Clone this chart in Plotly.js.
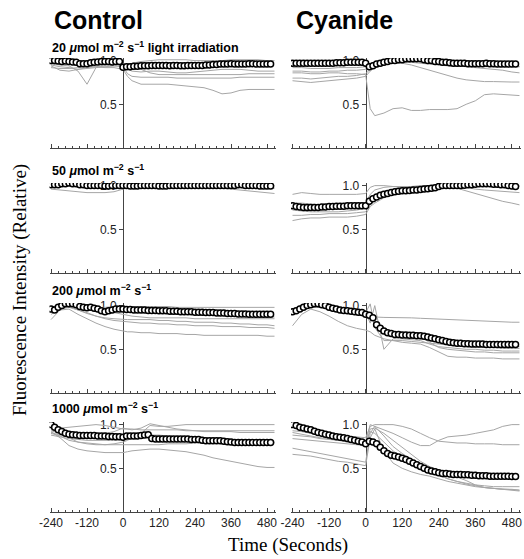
<!DOCTYPE html>
<html><head><meta charset="utf-8">
<script src="https://cdn.plot.ly/plotly-3.0.1.min.js"></script>
<style>html,body{margin:0;padding:0;background:#fff}#chart{width:524px;height:559px}</style>
</head><body><div id="chart"></div>
<script>
// ---------- DATA ----------
const meanT = [-240,-228,-216,-204,-192,-180,-168,-156,-144,-132,-120,-108,-96,-84,-72,-60,-48,-36,-24,-12,
  0,12,24,36,48,60,72,84,96,108,120,132,144,156,168,180,192,204,216,228,240,252,264,276,288,300,312,324,336,348,
  360,372,384,396,408,420,432,444,456,468,480,492];
const grayT = [-240,-210,-180,-150,-120,-90,-60,-30,0,15,30,60,90,120,150,180,210,240,270,300,330,360,390,420,450,480,505];

const columnTitles = ["Control", "Cyanide"];
const rowTitles = ["20 <i>μ</i>mol m<sup>−2</sup> s<sup>−1</sup> light irradiation",
                   "50 <i>μ</i>mol m<sup>−2</sup> s<sup>−1</sup>",
                   "200 <i>μ</i>mol m<sup>−2</sup> s<sup>−1</sup>",
                   "1000 <i>μ</i>mol m<sup>−2</sup> s<sup>−1</sup>"];
const xTickVals = [-240,-120,0,120,240,360,480];
const xTickText = ["-240","-120","0","120","240","360","480"];
const yTickVals = [0.5, 1.0];
const yTickText = ["0.5", "1.0"];

// Control, 20
const ctl20Mean = [1.0,1.0,0.995,0.99,0.995,0.99,0.985,0.98,0.965,0.965,0.965,0.975,0.98,0.985,0.99,0.99,0.99,0.985,0.99,0.99,
  0.925,0.93,0.93,0.935,0.935,0.94,0.94,0.94,0.945,0.945,
  0.945,0.945,0.945,0.94,0.945,0.945,0.94,0.94,0.945,0.945,
  0.945,0.945,0.945,0.95,0.95,0.955,0.955,0.96,0.96,0.96,
  0.965,0.96,0.96,0.96,0.96,0.965,0.965,0.96,0.96,0.96,
  0.96,0.96];
const ctl20Gray = [
  [0.98,0.98,0.97,0.97,0.98,0.98,0.97,0.97,0.97,0.95,0.97,0.99,1.0,1.01,1.01,1.01,1.01,1.0,1.0,1.0,1.0,1.01,1.01,1.01,1.01,1.0,1.0],
  [0.96,0.95,0.94,0.88,0.73,0.92,0.94,0.94,0.93,0.85,0.82,0.81,0.81,0.81,0.81,0.8,0.8,0.8,0.8,0.8,0.8,0.8,0.81,0.81,0.81,0.81,0.81],
  [0.92,0.91,0.91,0.92,0.93,0.93,0.92,0.92,0.9,0.82,0.77,0.73,0.73,0.73,0.73,0.72,0.71,0.7,0.69,0.66,0.62,0.63,0.66,0.67,0.67,0.67,0.67],
  [0.95,0.93,0.92,0.9,0.92,0.93,0.95,0.96,0.95,0.9,0.88,0.87,0.88,0.88,0.87,0.86,0.86,0.87,0.88,0.89,0.9,0.9,0.9,0.89,0.88,0.88,0.88],
  [0.94,0.89,0.88,0.9,0.91,0.92,0.93,0.94,0.94,0.93,0.92,0.9,0.86,0.84,0.84,0.84,0.84,0.84,0.84,0.84,0.84,0.84,0.84,0.85,0.85,0.85,0.85]
];
// Cyanide, 20
const cn20Mean = [0.97,0.97,0.97,0.97,0.97,0.97,0.97,0.97,0.97,0.97,0.97,0.97,0.975,0.975,0.975,0.98,0.98,0.98,0.98,0.98,
  0.97,0.93,0.94,0.96,0.97,0.98,0.99,1.0,1.0,1.01,
  1.01,1.02,1.02,1.02,1.02,1.02,1.01,1.0,1.0,0.99,
  0.99,0.98,0.98,0.975,0.97,0.97,0.97,0.97,0.965,0.965,
  0.965,0.965,0.965,0.97,0.965,0.965,0.96,0.96,0.96,0.96,
  0.96,0.96];
const cn20Gray = [
  [0.86,0.86,0.85,0.85,0.86,0.86,0.85,0.85,0.84,0.45,0.37,0.4,0.45,0.46,0.43,0.43,0.44,0.44,0.44,0.45,0.5,0.54,0.61,0.62,0.61,0.6,0.6],
  [0.8,0.8,0.79,0.8,0.81,0.82,0.82,0.83,0.85,0.9,0.93,0.96,0.97,0.97,0.95,0.92,0.89,0.86,0.83,0.8,0.78,0.77,0.76,0.76,0.755,0.755,0.755],
  [0.88,0.88,0.87,0.87,0.88,0.88,0.89,0.89,0.9,0.92,0.95,0.98,1.0,1.01,1.01,1.0,0.99,0.98,0.96,0.94,0.93,0.92,0.91,0.9,0.89,0.87,0.86],
  [0.92,0.92,0.91,0.91,0.91,0.92,0.92,0.92,0.93,0.95,0.97,0.99,1.0,1.01,1.01,1.01,1.0,0.99,0.98,0.97,0.96,0.95,0.95,0.94,0.94,0.93,0.93],
  [0.77,0.76,0.75,0.76,0.77,0.78,0.79,0.8,0.82,0.88,0.92,0.95,0.97,0.98,0.98,0.97,0.96,0.95,0.94,0.94,0.94,0.94,0.93,0.93,0.93,0.93,0.93]
];
// Control, 50
const ctl50Mean = [1.01,1.01,1.01,1.02,1.02,1.03,1.02,1.02,1.01,1.01,1.0,1.0,1.0,1.0,1.0,0.995,0.995,1.0,1.0,1.0,
  1.0,1.0,0.995,0.995,0.995,1.0,1.0,1.0,1.0,1.0,
  0.995,0.995,0.995,1.0,1.0,1.0,1.0,1.0,1.0,1.0,
  1.0,1.0,1.0,1.0,1.0,1.0,1.0,1.0,1.0,1.0,
  1.0,1.0,1.01,1.01,1.0,1.0,1.0,1.0,0.995,0.995,
  0.995,0.995];
const ctl50Gray = [
  [0.96,0.95,0.94,0.93,0.92,0.92,0.92,0.93,0.96,0.98,0.99,0.99,0.99,0.98,0.98,0.99,0.99,0.99,0.98,0.98,0.97,0.96,0.95,0.94,0.93,0.92,0.91],
  [0.99,1.0,1.01,1.0,0.99,0.98,0.97,0.97,0.98,0.99,0.99,0.99,0.97,0.99,0.99,0.99,0.99,0.98,0.98,0.99,0.99,0.98,0.98,0.97,0.97,0.97,0.97],
  [1.0,1.01,1.02,1.01,1.0,1.0,0.99,0.99,0.99,1.0,1.0,1.0,1.0,1.0,1.0,1.0,1.0,1.0,1.0,1.01,1.01,1.01,1.0,1.0,1.0,1.0,1.0]
];
// Cyanide, 50
const cn50Mean = [0.77,0.76,0.755,0.75,0.75,0.75,0.75,0.75,0.755,0.755,0.76,0.76,0.765,0.765,0.765,0.77,0.77,0.77,0.77,0.77,
  0.77,0.82,0.85,0.87,0.89,0.9,0.91,0.92,0.93,0.935,
  0.94,0.94,0.945,0.95,0.95,0.955,0.96,0.965,0.97,0.975,
  0.99,1.0,1.0,1.0,1.0,1.0,1.0,1.005,1.01,1.01,
  1.015,1.02,1.02,1.02,1.02,1.015,1.015,1.01,1.01,1.0,
  0.995,0.99];
const cn50Gray = [
  [0.9,0.92,0.91,0.9,0.9,0.9,0.9,0.9,0.91,0.98,1.0,1.0,0.99,0.98,0.98,0.98,0.99,1.0,1.0,1.0,0.98,0.96,0.95,0.94,0.93,0.92,0.92],
  [0.6,0.62,0.63,0.63,0.64,0.64,0.64,0.65,0.67,0.76,0.8,0.86,0.9,0.92,0.93,0.95,0.97,1.0,1.0,0.97,0.94,0.91,0.88,0.85,0.82,0.8,0.78],
  [0.72,0.71,0.7,0.7,0.7,0.7,0.71,0.72,0.74,0.8,0.84,0.88,0.9,0.91,0.92,0.93,0.95,0.97,0.99,1.0,1.0,1.0,1.0,1.0,1.0,1.0,1.0],
  [0.66,0.66,0.67,0.67,0.68,0.68,0.68,0.69,0.7,0.78,0.85,0.9,0.93,0.95,0.96,0.97,0.98,0.99,1.0,1.0,1.0,1.01,1.01,1.0,1.0,1.0,1.0],
  [0.8,0.8,0.79,0.78,0.78,0.78,0.79,0.8,0.8,0.9,0.95,0.98,0.99,0.99,0.99,1.0,1.0,1.0,1.0,1.0,1.0,1.0,1.0,0.99,0.99,0.99,0.99]
];
// Control, 200
const ctl200Mean = [0.96,0.95,0.98,1.0,1.02,1.02,1.02,1.01,0.99,0.98,0.975,0.98,0.97,0.96,0.94,0.93,0.94,0.95,0.96,0.96,
  0.96,0.955,0.955,0.95,0.95,0.95,0.95,0.945,0.945,0.945,
  0.94,0.94,0.94,0.935,0.935,0.935,0.93,0.93,0.93,0.93,
  0.925,0.925,0.925,0.92,0.92,0.92,0.915,0.915,0.915,0.91,
  0.91,0.91,0.905,0.905,0.905,0.9,0.9,0.9,0.9,0.9,
  0.9,0.9];
const ctl200Gray = [
  [0.84,0.95,0.96,0.9,0.85,0.8,0.76,0.73,0.71,0.7,0.7,0.69,0.69,0.68,0.68,0.68,0.67,0.67,0.66,0.66,0.66,0.66,0.66,0.66,0.66,0.65,0.65],
  [0.93,0.97,0.99,0.95,0.91,0.88,0.85,0.83,0.82,0.82,0.81,0.8,0.8,0.79,0.79,0.78,0.78,0.77,0.77,0.77,0.76,0.76,0.76,0.75,0.75,0.75,0.74],
  [0.95,0.98,1.0,0.98,0.96,0.94,0.93,0.92,0.9,0.89,0.88,0.87,0.86,0.86,0.86,0.86,0.86,0.85,0.85,0.85,0.85,0.85,0.85,0.85,0.85,0.85,0.85],
  [0.98,1.0,1.01,1.0,0.99,0.98,0.98,0.99,0.99,0.99,0.99,0.99,0.99,0.99,0.99,0.98,0.98,0.98,0.98,0.98,0.98,0.98,0.98,0.98,0.98,0.98,0.98],
  [0.97,0.98,1.0,0.99,0.97,0.96,0.95,0.94,0.93,0.93,0.93,0.92,0.92,0.92,0.92,0.91,0.91,0.91,0.91,0.9,0.9,0.89,0.88,0.88,0.87,0.87,0.87],
  [0.9,0.96,0.98,0.95,0.92,0.88,0.86,0.85,0.84,0.84,0.84,0.84,0.84,0.83,0.83,0.82,0.82,0.81,0.81,0.81,0.8,0.8,0.79,0.79,0.78,0.78,0.77]
];
// Cyanide, 200
const cn200Mean = [0.93,0.94,0.96,0.98,1.0,1.01,1.02,1.02,1.01,1.0,0.98,0.97,0.96,0.95,0.945,0.94,0.935,0.93,0.925,0.92,
  0.9,0.89,0.86,0.78,0.74,0.71,0.69,0.68,0.67,0.67,
  0.665,0.665,0.66,0.66,0.655,0.655,0.65,0.64,0.63,0.62,
  0.61,0.6,0.59,0.58,0.575,0.57,0.57,0.565,0.565,0.56,
  0.56,0.56,0.56,0.555,0.555,0.555,0.555,0.555,0.555,0.555,
  0.555,0.555];
const cn200Gray = [
  [0.9,0.95,0.98,0.98,0.97,0.96,0.95,0.94,0.93,0.91,0.87,0.865,0.865,0.86,0.86,0.855,0.85,0.845,0.84,0.835,0.83,0.825,0.82,0.82,0.815,0.81,0.81],
  [0.92,0.95,0.99,1.0,0.99,0.97,0.95,0.93,0.92,1.02,0.75,0.6,0.6,0.6,0.59,0.58,0.57,0.56,0.55,0.54,0.53,0.52,0.52,0.52,0.51,0.51,0.51],
  [0.95,0.97,1.0,1.0,0.98,0.96,0.94,0.93,0.92,0.8,1.0,0.5,0.62,0.62,0.61,0.6,0.56,0.53,0.52,0.51,0.5,0.5,0.49,0.49,0.48,0.48,0.48],
  [0.77,0.9,0.96,0.93,0.88,0.82,0.77,0.74,0.72,0.7,0.66,0.62,0.6,0.58,0.57,0.56,0.52,0.47,0.42,0.41,0.41,0.4,0.4,0.4,0.39,0.39,0.39],
  [0.93,0.96,0.99,0.99,0.98,0.96,0.95,0.94,0.93,0.9,0.8,0.7,0.66,0.64,0.63,0.62,0.6,0.58,0.56,0.55,0.54,0.54,0.53,0.53,0.53,0.53,0.53],
  [0.94,0.97,1.0,1.0,0.99,0.97,0.96,0.95,0.94,0.9,0.82,0.72,0.68,0.66,0.65,0.64,0.58,0.52,0.5,0.49,0.48,0.47,0.47,0.46,0.46,0.46,0.46]
];
// Control, 1000
const ctl1000Mean = [1.0,0.97,0.94,0.92,0.9,0.89,0.885,0.88,0.875,0.875,0.875,0.875,0.875,0.87,0.87,0.87,0.865,0.865,0.86,0.86,
  0.855,0.87,0.87,0.87,0.87,0.875,0.88,0.885,0.84,0.835,
  0.835,0.835,0.835,0.835,0.835,0.835,0.835,0.835,0.835,0.83,
  0.83,0.83,0.82,0.815,0.815,0.815,0.815,0.815,0.81,0.805,
  0.8,0.795,0.795,0.795,0.795,0.795,0.795,0.795,0.795,0.795,
  0.795,0.795];
const ctl1000Gray = [
  [0.92,0.85,0.76,0.72,0.7,0.69,0.68,0.68,0.68,0.69,0.7,0.71,0.72,0.72,0.71,0.7,0.69,0.67,0.65,0.62,0.6,0.58,0.56,0.54,0.52,0.51,0.51],
  [0.93,0.9,0.85,0.8,0.78,0.77,0.77,0.78,0.8,0.82,0.85,0.9,0.99,0.98,0.98,0.99,1.0,1.0,1.0,1.0,1.0,1.0,1.0,1.0,1.0,1.0,1.0],
  [0.9,0.87,0.82,0.8,0.79,0.78,0.77,0.77,0.77,0.77,0.77,0.77,0.77,0.77,0.78,0.78,0.78,0.79,0.79,0.8,0.8,0.8,0.8,0.8,0.8,0.8,0.8],
  [0.95,0.96,0.97,0.98,0.99,1.0,0.99,0.97,0.95,0.95,0.95,0.94,0.94,0.94,0.94,0.94,0.93,0.93,0.93,0.93,0.93,0.93,0.93,0.93,0.93,0.93,0.93],
  [0.91,0.88,0.86,0.86,0.87,0.88,0.9,0.92,0.96,0.95,0.94,0.96,1.01,0.99,0.97,0.95,0.94,0.93,0.92,0.92,0.92,0.92,0.91,0.91,0.91,0.91,0.91],
  [0.88,0.86,0.84,0.83,0.82,0.82,0.82,0.82,0.83,0.84,0.85,0.87,0.88,0.88,0.87,0.86,0.85,0.84,0.84,0.83,0.82,0.81,0.8,0.8,0.79,0.79,0.79]
];
// Cyanide, 1000
const cn1000Mean = [1.0,0.99,0.97,0.96,0.95,0.94,0.925,0.91,0.9,0.89,0.88,0.87,0.86,0.855,0.85,0.84,0.83,0.82,0.81,0.8,
  0.78,0.81,0.8,0.78,0.74,0.7,0.67,0.65,0.64,0.63,
  0.615,0.6,0.58,0.56,0.54,0.52,0.5,0.48,0.47,0.46,
  0.45,0.44,0.44,0.435,0.43,0.43,0.43,0.425,0.425,0.42,
  0.42,0.415,0.415,0.415,0.41,0.41,0.41,0.41,0.41,0.41,
  0.405,0.405];
const cn1000Gray = [
  [0.91,0.89,0.87,0.85,0.84,0.83,0.82,0.81,0.8,1.0,0.98,0.94,0.9,0.85,0.8,0.76,0.76,0.82,0.86,0.87,0.88,0.9,0.92,0.94,0.98,1.0,1.0],
  [0.93,0.92,0.9,0.89,0.88,0.87,0.86,0.86,0.85,0.98,1.0,1.0,1.0,0.98,0.95,0.9,0.85,0.81,0.8,0.79,0.79,0.78,0.78,0.78,0.77,0.77,0.77],
  [0.73,0.71,0.69,0.67,0.65,0.63,0.61,0.59,0.57,0.9,0.98,0.87,0.75,0.67,0.6,0.53,0.47,0.42,0.38,0.35,0.33,0.31,0.3,0.29,0.29,0.29,0.29],
  [0.66,0.65,0.64,0.62,0.6,0.58,0.57,0.55,0.53,0.85,0.95,0.7,0.56,0.5,0.46,0.43,0.41,0.38,0.35,0.33,0.31,0.29,0.28,0.27,0.26,0.26,0.25],
  [0.84,0.83,0.82,0.81,0.8,0.79,0.78,0.77,0.76,0.95,0.96,0.9,0.82,0.74,0.65,0.58,0.52,0.48,0.44,0.4,0.36,0.31,0.28,0.27,0.26,0.25,0.25],
  [0.88,0.87,0.86,0.84,0.83,0.82,0.8,0.79,0.78,0.92,0.9,0.8,0.7,0.62,0.56,0.5,0.46,0.42,0.38,0.35,0.32,0.3,0.28,0.27,0.26,0.25,0.24]
];

// ---------- BUILD ----------
const panels = [
  [ctl20Mean, ctl20Gray], [cn20Mean, cn20Gray],
  [ctl50Mean, ctl50Gray], [cn50Mean, cn50Gray],
  [ctl200Mean, ctl200Gray], [cn200Mean, cn200Gray],
  [ctl1000Mean, ctl1000Gray], [cn1000Mean, cn1000Gray]
];
panels.forEach(function (p, k) {
  if (p[0].length !== meanT.length) throw new Error('mean length panel ' + k + ': ' + p[0].length);
  p[1].forEach(function (g, j) { if (g.length !== grayT.length) throw new Error('gray length panel ' + k + ' line ' + j + ': ' + g.length); });
});

const W = 524, H = 559;
const SANS = '"Liberation Sans", Arial, Helvetica, sans-serif';
const SERIF = '"Liberation Serif", "Times New Roman", serif';
const X_RANGE = [-245, 510];
const Y_RANGE = [0, 1.03];
const colPx = [[49.5, 276], [291, 521]];
const rowBottomPx = [148, 273, 393, 512];
const rowHeightPx = 90;
const AX = '#444';

const traces = [];
const layout = {
  width: W, height: H,
  margin: {l: 0, r: 0, t: 0, b: 0},
  showlegend: false,
  paper_bgcolor: '#fff', plot_bgcolor: 'rgba(0,0,0,0)',
  font: {family: SANS, size: 12, color: '#222'},
  annotations: []
};

panels.forEach(function (p, k) {
  const row = Math.floor(k / 2), col = k % 2;
  const sfx = k === 0 ? '' : String(k + 1);
  const xa = 'x' + sfx, ya = 'y' + sfx;
  const xd = [colPx[col][0] / W, colPx[col][1] / W];
  const yd = [1 - rowBottomPx[row] / H, 1 - (rowBottomPx[row] - rowHeightPx) / H];
  const pos = xd[0] + (0 - X_RANGE[0]) / (X_RANGE[1] - X_RANGE[0]) * (xd[1] - xd[0]);

  layout['xaxis' + sfx] = {
    domain: xd, range: X_RANGE, anchor: ya,
    showline: true, linecolor: AX, linewidth: 1,
    ticks: 'inside', ticklen: 4, tickcolor: AX, tickwidth: 1,
    tickmode: 'array', tickvals: xTickVals, ticktext: xTickText,
    showticklabels: row === 3, ticklabeloverflow: 'allow',
    tickfont: {size: 12, color: '#222', family: SANS},
    showgrid: false, zeroline: false, fixedrange: true,
    minor: {tickmode: 'linear', tick0: -240, dtick: 24, ticks: 'inside', ticklen: 2, tickcolor: AX, showgrid: false}
  };
  layout['yaxis' + sfx] = {
    domain: yd, range: Y_RANGE, anchor: 'free', position: pos, side: 'left',
    showline: true, linecolor: AX, linewidth: 1,
    ticks: 'outside', ticklen: 4, tickcolor: AX,
    tickmode: 'array', tickvals: yTickVals, ticktext: yTickText,
    tickfont: {size: 12, color: '#222', family: SANS},
    showgrid: false, zeroline: false, layer: 'below traces', fixedrange: true
  };

  p[1].forEach(function (g) {
    traces.push({x: grayT, y: g, xaxis: xa, yaxis: ya, type: 'scatter', mode: 'lines',
      line: {color: '#a6a6a6', width: 1}, hoverinfo: 'skip'});
  });
  traces.push({x: meanT, y: p[0], xaxis: xa, yaxis: ya, type: 'scatter', mode: 'markers',
    marker: {symbol: 'circle', size: 6, color: '#fff', line: {color: '#000', width: 1.5}}, hoverinfo: 'skip'});
});

// column titles
[52, 294].forEach(function (px, c) {
  layout.annotations.push({xref: 'paper', yref: 'paper', x: px / W, y: 1 - 20 / H,
    xanchor: 'left', yanchor: 'middle', showarrow: false,
    text: '<b>' + columnTitles[c] + '</b>', font: {family: SANS, size: 25, color: '#000'}});
});
// row titles
[47, 170, 290, 408].forEach(function (py, r) {
  layout.annotations.push({xref: 'paper', yref: 'paper', x: 50 / W, y: 1 - py / H,
    xanchor: 'left', yanchor: 'middle', showarrow: false,
    text: '<b>' + rowTitles[r] + '</b>', font: {family: SANS, size: 12.5, color: '#000'}});
});
// axis titles
layout.annotations.push({xref: 'paper', yref: 'paper', x: 288 / W, y: 1 - 545 / H,
  xanchor: 'center', yanchor: 'middle', showarrow: false,
  text: 'Time (Seconds)', font: {family: SERIF, size: 19, color: '#000'}});
layout.annotations.push({xref: 'paper', yref: 'paper', x: 20 / W, y: 1 - 290 / H,
  xanchor: 'center', yanchor: 'middle', showarrow: false, textangle: -90,
  text: 'Fluorescence Intensity (Relative)', font: {family: SERIF, size: 19, color: '#000'}});

Plotly.newPlot('chart', traces, layout, {staticPlot: true, displayModeBar: false});
</script>
</body></html>
